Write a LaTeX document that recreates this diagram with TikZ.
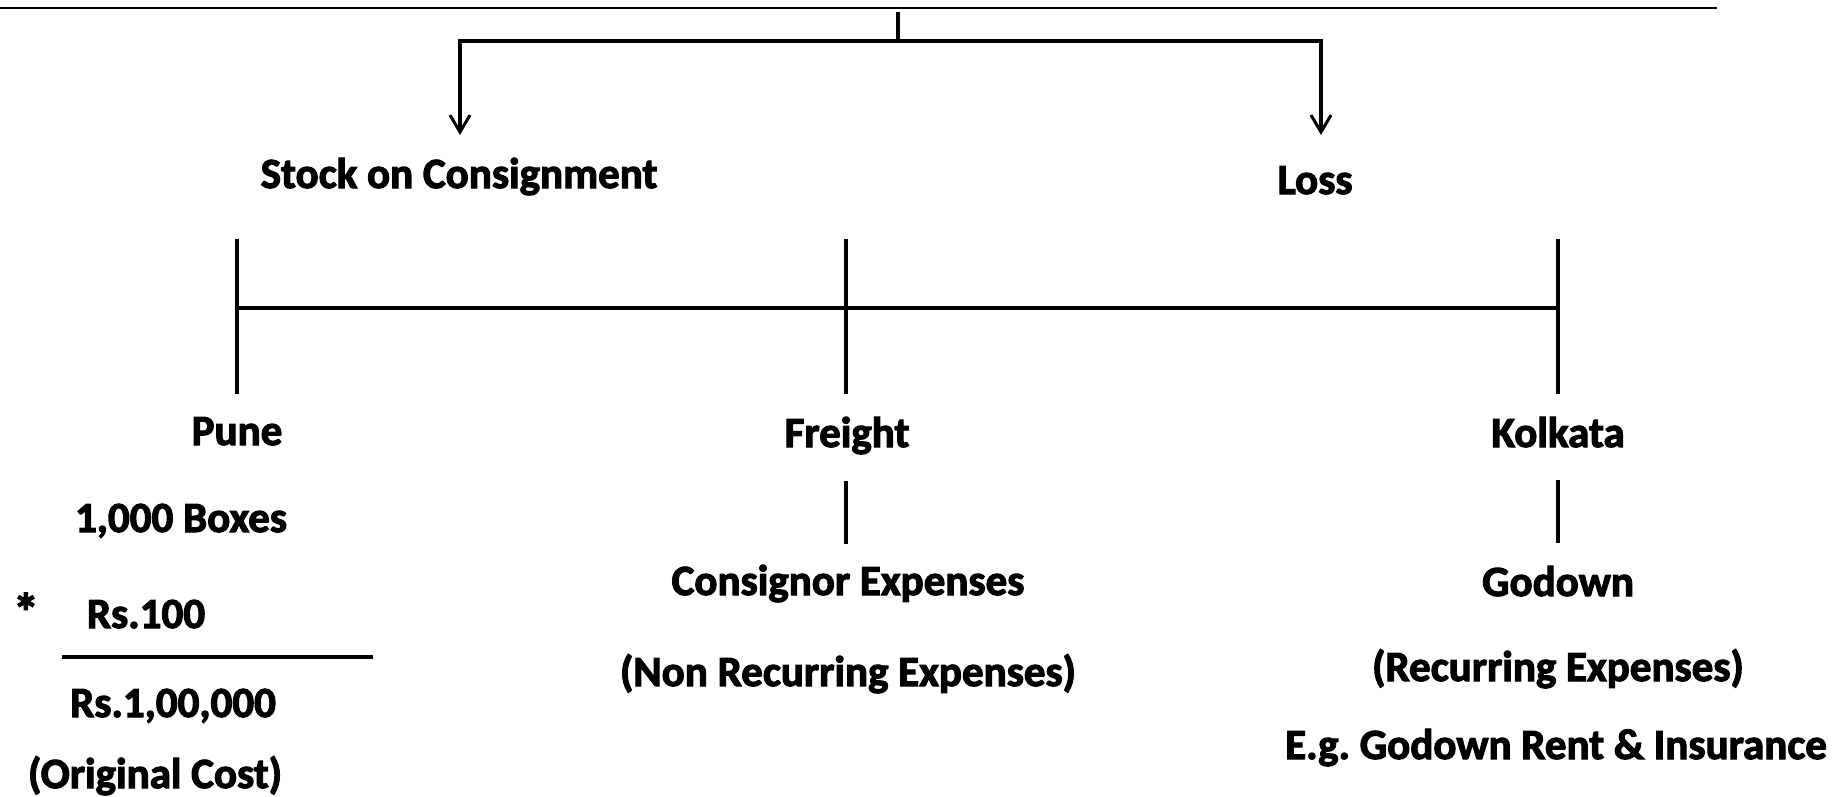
\documentclass[tikz,border=0pt]{standalone}
\usepackage{fontspec}
\setmainfont{Carlito}[BoldFeatures={FakeBold=2.6}]
\usetikzlibrary{arrows.meta}

\begin{document}
\frenchspacing
\begin{tikzpicture}[x=1pt,y=-1pt,
  lbl/.style={anchor=base,inner sep=0pt,font=\fontsize{43}{50}\selectfont\bfseries},
  stem/.style={line width=3.6pt},
  bar/.style={line width=4.4pt},
  drop/.style={line width=3.2pt,-{Straight Barb[length=17pt,width=20pt,line width=3pt]}}]
  \useasboundingbox (0,0) rectangle (1848,796);

  % thin rule along the top edge
  \coordinate (ruleL) at (0,8);
  \coordinate (ruleR) at (1717,8);
  \draw[line width=1.5pt] (ruleL) -- (ruleR);

  % first split: stock on consignment and loss
  \coordinate (root) at (898,12);
  \coordinate (rootJ) at (898,41);
  \coordinate (splitL) at (460,41);
  \coordinate (splitR) at (1321,41);
  \coordinate (stockTip) at (460,135);
  \coordinate (lossTip) at (1321,135);
  \draw[stem] (root) -- (rootJ);
  \draw[bar,line cap=rect] (splitL) -- (splitR);
  \draw[drop] (splitL) -- (stockTip);
  \draw[drop] (splitR) -- (lossTip);

  \node[lbl] (stock) at (459,188) {Stock on Consignment};
  \node[lbl] (loss) at (1315,194) {Loss};

  % second split: Pune, freight, Kolkata
  \coordinate (puneT) at (237,239);
  \coordinate (puneM) at (237,308);
  \coordinate (puneB) at (237,394);
  \coordinate (frT) at (846,239);
  \coordinate (frB) at (846,394);
  \coordinate (koT) at (1558,239);
  \coordinate (koM) at (1558,308);
  \coordinate (koB) at (1558,394);
  \draw[stem] (puneT) -- (puneB);
  \draw[stem] (frT) -- (frB);
  \draw[stem] (koT) -- (koB);
  \draw[bar] (puneM) -- (koM);

  \node[lbl] (pune) at (237,445) {Pune};
  \node[lbl] (freight) at (847,447) {Freight};
  \node[lbl] (kolkata) at (1558,447) {Kolkata};

  % Pune: cost of the stock
  \node[lbl] (boxes) at (181,532) {1,000 Boxes};
  \node[lbl,font=\fontsize{52}{60}\selectfont\bfseries] (star) at (26,630) {*};
  \node[lbl] (rate) at (146,628) {Rs.100};
  \coordinate (fracL) at (62,657);
  \coordinate (fracR) at (373,657);
  \draw[line width=4pt] (fracL) -- (fracR);
  \node[lbl] (total) at (173,717) {Rs.1,00,000};
  \node[lbl] (orig) at (155,788) {(Original Cost)};

  % freight: consignor expenses
  \coordinate (frSubT) at (846,481);
  \coordinate (frSubB) at (846,544);
  \draw[stem] (frSubT) -- (frSubB);
  \node[lbl] (consignor) at (848,595) {Consignor Expenses};
  \node[lbl] (nonrec) at (848,686) {(Non Recurring Expenses)};

  % Kolkata: godown
  \coordinate (koSubT) at (1558,480);
  \coordinate (koSubB) at (1558,543);
  \draw[stem] (koSubT) -- (koSubB);
  \node[lbl] (godown) at (1558,596) {Godown};
  \node[lbl] (recur) at (1558,681) {(Recurring Expenses)};
  \node[lbl] (eg) at (1556,759) {E.g. Godown Rent \& Insurance};
\end{tikzpicture}
\end{document}
